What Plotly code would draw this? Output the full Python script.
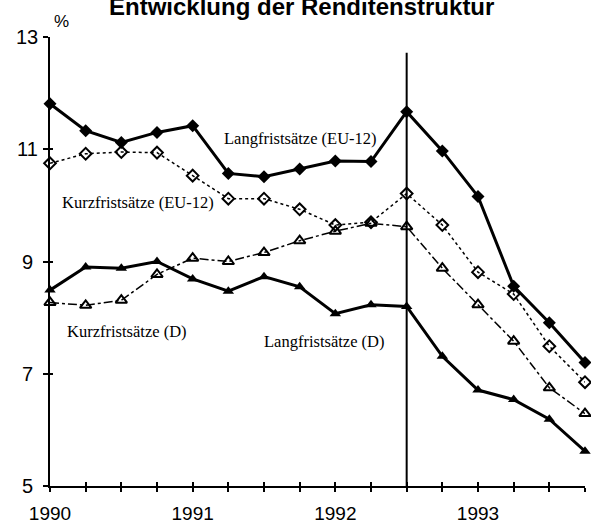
import plotly.graph_objects as go

# ---- data (quarterly, 1990 Q1 .. 1993 Q4) ----
quarters = [1990 + i * 0.25 for i in range(16)]
lang_eu = [11.81, 11.33, 11.12, 11.30, 11.42, 10.57, 10.51, 10.65,
           10.79, 10.78, 11.67, 10.97, 10.16, 8.56, 7.91, 7.20]
kurz_eu = [10.75, 10.92, 10.95, 10.94, 10.53, 10.12, 10.12, 9.93,
           9.65, 9.70, 10.21, 9.65, 8.81, 8.42, 7.49, 6.85]
kurz_d = [8.27, 8.22, 8.31, 8.77, 9.06, 9.00, 9.16, 9.37,
          9.54, 9.68, 9.62, 8.88, 8.23, 7.58, 6.75, 6.29]
lang_d = [8.49, 8.90, 8.88, 9.00, 8.69, 8.47, 8.73, 8.55,
          8.07, 8.23, 8.20, 7.31, 6.71, 6.54, 6.19, 5.62]

year_ticks = [1990, 1991, 1992, 1993]
year_labels = ["1990", "1991", "1992", "1993"]
y_ticks = [5, 7, 9, 11, 13]
y_labels = ["5", "7", "9", "11", "13"]
marker_line_x = 1992.5
marker_line_top = 12.72

title = "Entwicklung der Renditenstruktur"
series_labels = ["Langfristsätze (EU-12)", "Kurzfristsätze (EU-12)",
                 "Kurzfristsätze (D)", "Langfristsätze (D)"]
label_pos = [(1991.206, 11.185), (1990.07, 10.06), (1990.105, 7.75), (1991.486, 7.57)]

SANS = "Liberation Sans, Arial, sans-serif"
SERIF = "Liberation Serif, Times New Roman, serif"

fig = go.Figure()

fig.add_trace(go.Scatter(x=quarters, y=kurz_eu, mode="lines+markers", cliponaxis=False,
                         line=dict(color="black", width=1.5, dash="dot"),
                         marker=dict(symbol="diamond-open", size=9, color="black",
                                     line=dict(width=2, color="black"))))
fig.add_trace(go.Scatter(x=quarters, y=kurz_d, mode="lines+markers", cliponaxis=False,
                         line=dict(color="black", width=1.5, dash="dashdot"),
                         marker=dict(symbol="triangle-up-open", size=10, color="black",
                                     line=dict(width=2, color="black"))))
fig.add_trace(go.Scatter(x=quarters, y=lang_eu, mode="lines+markers", cliponaxis=False,
                         line=dict(color="black", width=3),
                         marker=dict(symbol="diamond", size=10, color="black")))
fig.add_trace(go.Scatter(x=quarters, y=lang_d, mode="lines+markers", cliponaxis=False,
                         line=dict(color="black", width=3),
                         marker=dict(symbol="triangle-up", size=10, color="black")))
# empty trace to show the overlay axes (inner half of the crossing ticks)
fig.add_trace(go.Scatter(x=[], y=[], xaxis="x2", yaxis="y2", showlegend=False, hoverinfo="skip"))

fig.add_shape(type="line", xref="x", yref="y", x0=marker_line_x, x1=marker_line_x,
              y0=y_ticks[0], y1=marker_line_top, line=dict(color="black", width=2))

xr = [quarters[0], quarters[-1]]
yr = [y_ticks[0], y_ticks[-1]]

fig.update_layout(
    width=591, height=524,
    margin=dict(l=50, r=6, t=37, b=38, autoexpand=False),
    plot_bgcolor="white", paper_bgcolor="white",
    showlegend=False,
    xaxis=dict(range=xr, tickvals=quarters, automargin=False,
               ticktext=[year_labels[year_ticks.index(q)] if q in year_ticks else "" for q in quarters],
               ticks="outside", ticklen=4, tickwidth=1.5, tickcolor="black",
               showline=True, linewidth=2, linecolor="black",
               showgrid=False, zeroline=False, ticklabelstandoff=5,
               tickfont=dict(family=SANS, size=19, color="black")),
    yaxis=dict(range=yr, tickvals=y_ticks, showticklabels=False, automargin=False,
               ticks="outside", ticklen=5, tickwidth=1.5, tickcolor="black",
               showline=True, linewidth=2, linecolor="black",
               showgrid=False, zeroline=False),
    xaxis2=dict(range=xr, overlaying="x", anchor="y2", tickvals=quarters, automargin=False,
                ticks="inside", ticklen=4, tickwidth=1.5, tickcolor="black",
                showticklabels=False, showline=False, showgrid=False, zeroline=False),
    yaxis2=dict(range=yr, overlaying="y", anchor="x2", tickvals=y_ticks, automargin=False,
                ticks="inside", ticklen=3, tickwidth=1.5, tickcolor="black",
                showticklabels=False, showline=False, showgrid=False, zeroline=False),
)

ann = []
for v, t in zip(y_ticks, y_labels):
    ann.append(dict(x=0, xref="paper", xshift=27 - 50, y=v, yref="y", text=t, showarrow=False,
                    xanchor="center", yanchor="middle",
                    font=dict(family=SANS, size=20, color="black")))
ann.append(dict(x=0, xref="paper", y=1, yref="paper", text="%", showarrow=False,
                xanchor="center", yanchor="middle", xshift=11, yshift=16,
                font=dict(family=SANS, size=17, color="black")))
for (lx, ly), t in zip(label_pos, series_labels):
    ann.append(dict(x=lx, y=ly, xref="x", yref="y", text=t, showarrow=False,
                    xanchor="left", yanchor="middle",
                    font=dict(family=SERIF, size=16.5, color="black")))
ann.append(dict(x=0.5, xref="paper", y=1, yref="paper", text="<b>" + title + "</b>",
                showarrow=False, xanchor="center", yanchor="bottom", yshift=15, xshift=-16,
                font=dict(family=SANS, size=24, color="black")))
fig.update_layout(annotations=ann)

fig.write_html("out.html", config={"displayModeBar": False},
               post_script="document.body.style.margin='0';document.body.style.padding='0';")
